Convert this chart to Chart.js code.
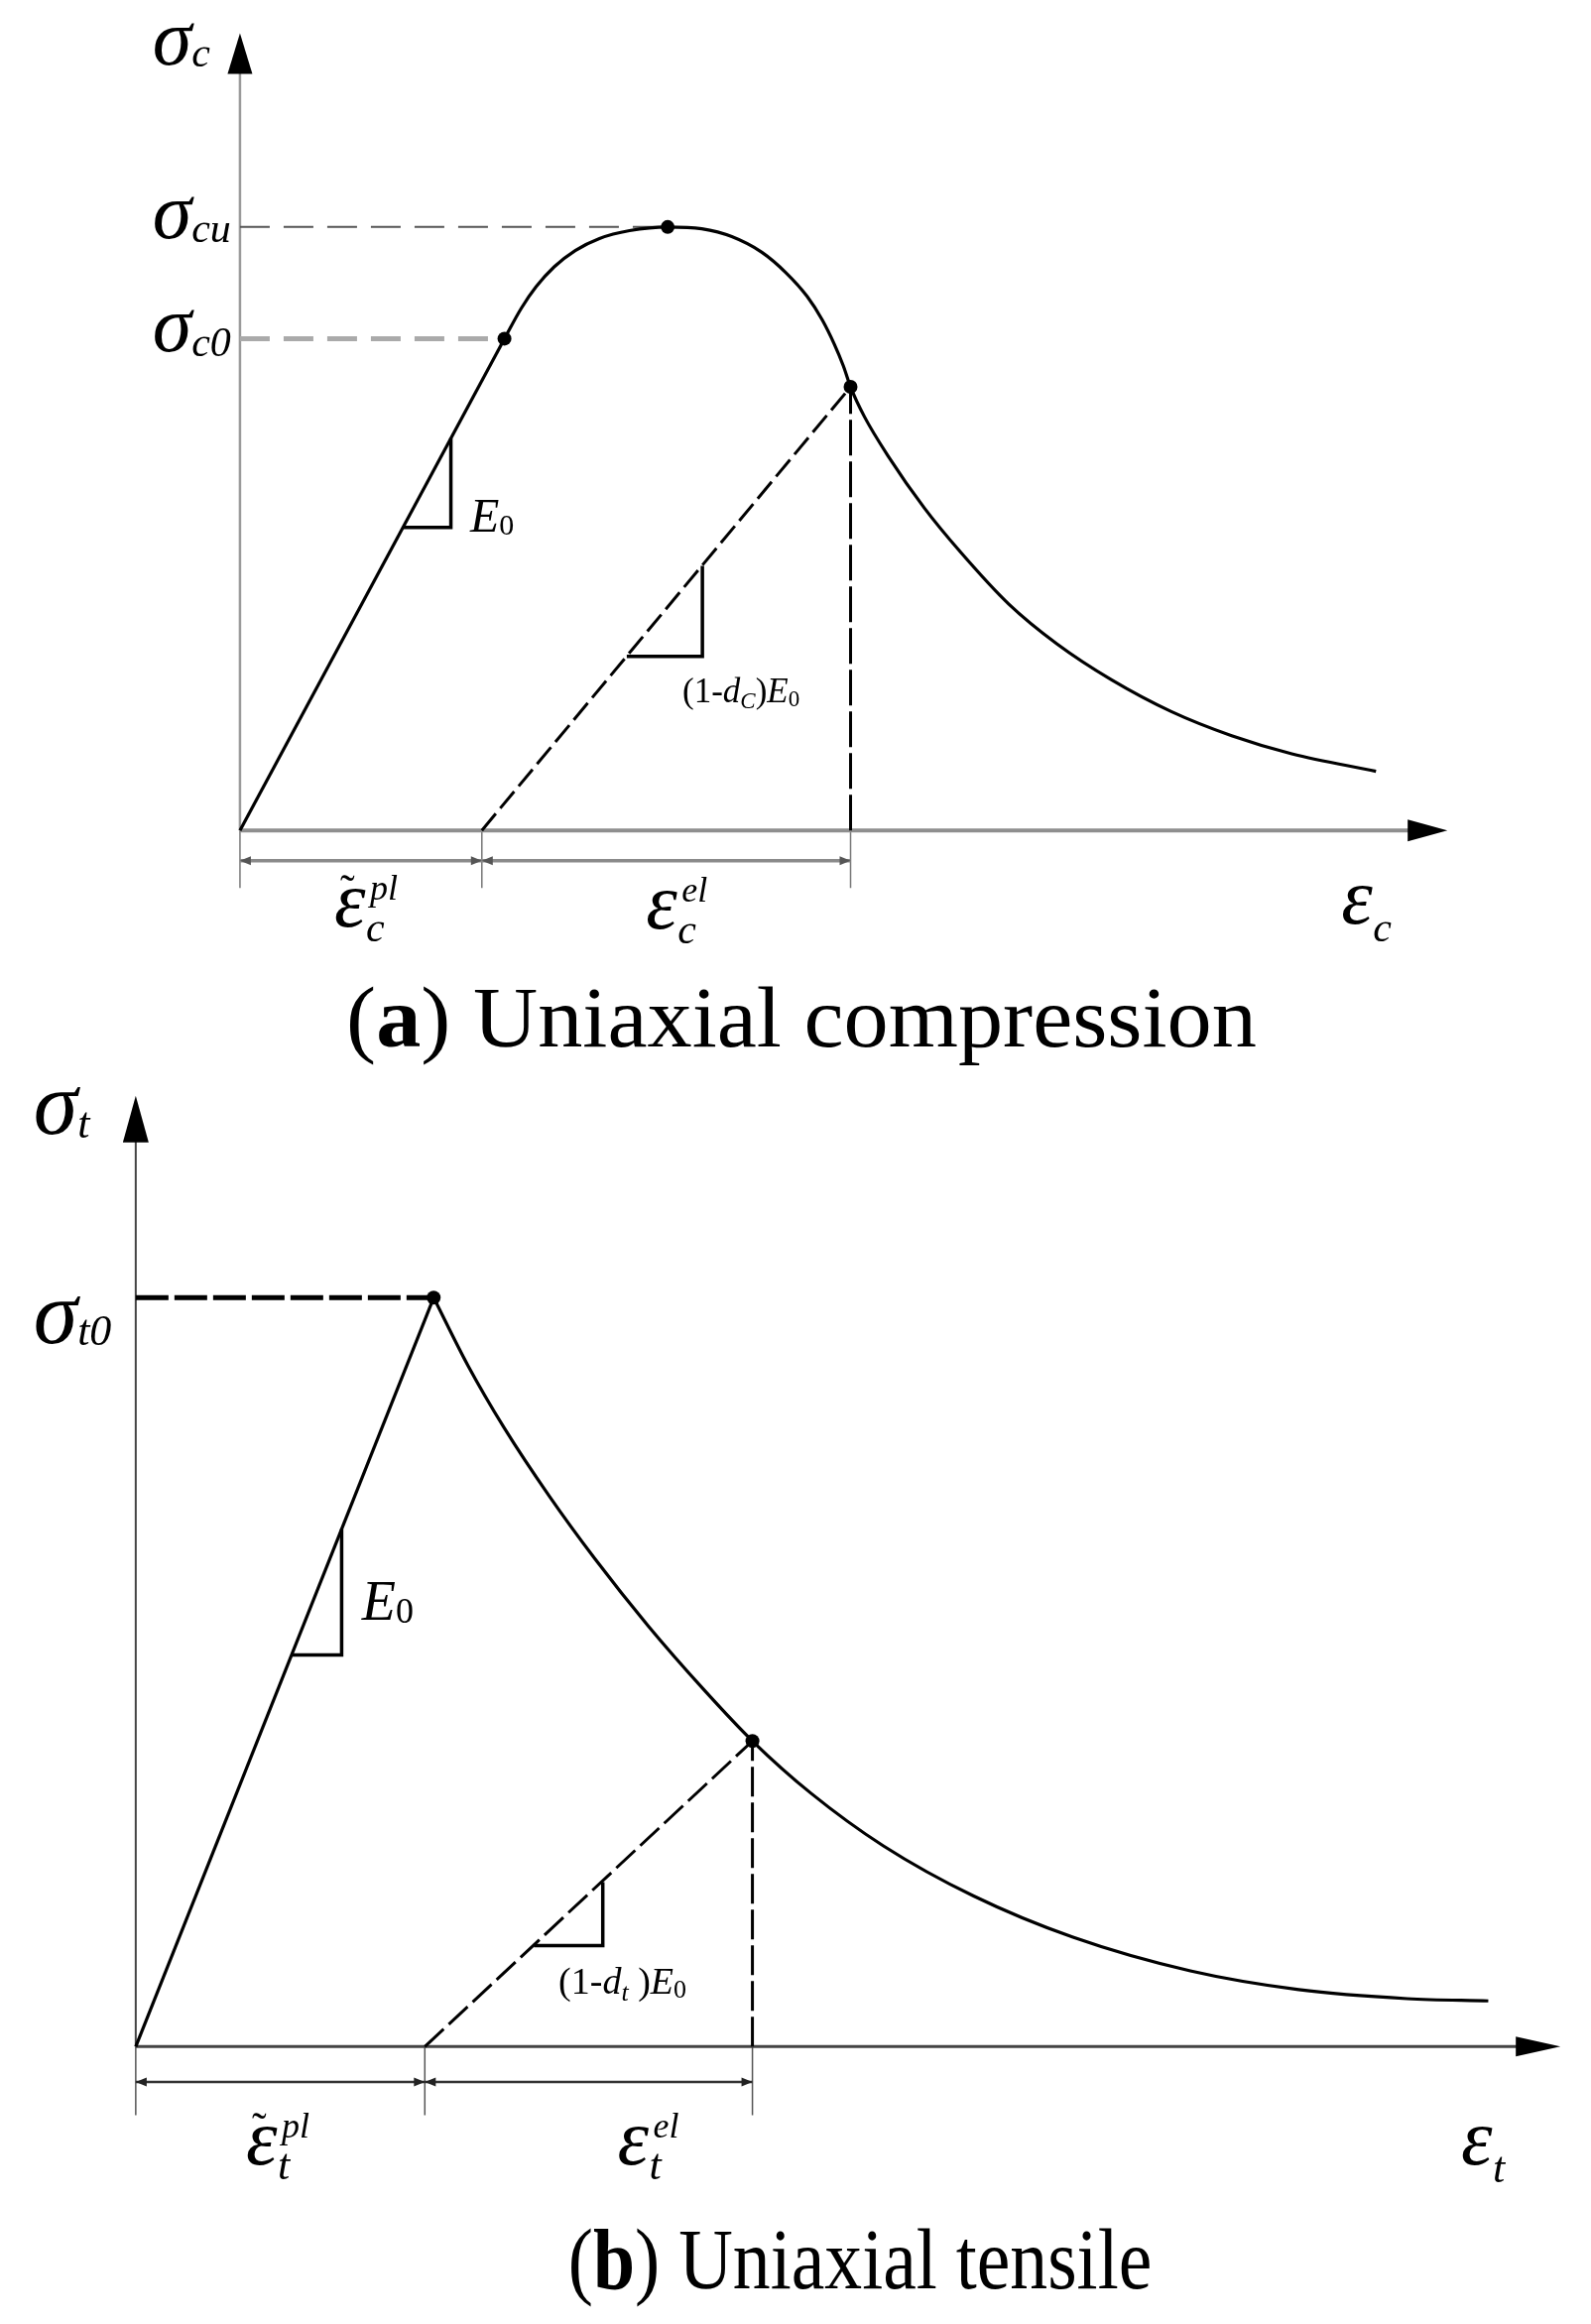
<!DOCTYPE html>
<html>
<head>
<meta charset="utf-8">
<script src="https://cdn.jsdelivr.net/npm/chart.js@4.4.0/dist/chart.umd.min.js"></script>
<style>
  html, body { margin: 0; padding: 0; background: #fff; }
  body { width: 1604px; height: 2343px; position: relative; overflow: hidden; }
  canvas { position: absolute; left: 0; }
  #cvA { top: 0; }
  #cvB { top: 1075px; }
  .cap { position: absolute; font-family: "Liberation Serif", serif; font-size: 86px; line-height: 1;
         color: #000; white-space: nowrap; }
</style>
</head>
<body>
<canvas id="cvA" width="1604" height="1000"></canvas>
<canvas id="cvB" width="1604" height="1190"></canvas>
<div class="cap" style="left:808px; top:983px; transform:translateX(-50%) scaleX(1.05);">(<b>a</b>) Uniaxial compression</div>
<div class="cap" style="left:867px; top:2235px; transform:translateX(-50%) scaleX(0.88);">(<b>b</b>) Uniaxial tensile</div>

<script>
// ---- (a) uniaxial compression: strain (arbitrary units), stress / sigma_cu
var compElasticStrain = [0, 1.345];
var compElasticStress = [0, 0.815];
var compCurveStrain = [1.345, 1.430, 1.506, 1.598, 1.705, 1.828, 1.981, 2.175, 2.348, 2.501, 2.654, 2.777, 2.884, 2.961,
                       3.022, 3.068, 3.105, 3.175, 3.297, 3.481, 3.665, 3.910, 4.155, 4.430, 4.736, 5.043, 5.349, 5.777];
var compCurveStress = [0.815, 0.865, 0.901, 0.934, 0.961, 0.981, 0.994, 1.000, 0.997, 0.984, 0.958, 0.924, 0.885, 0.846,
                       0.806, 0.770, 0.735, 0.686, 0.620, 0.534, 0.461, 0.375, 0.309, 0.250, 0.197, 0.157, 0.127, 0.098];
var compKeyStrain = [1.345, 2.175, 3.105];     // sigma_c0, sigma_cu, unloading point
var compKeyStress = [0.815, 1.000, 0.735];
var compUnloadStrain = [1.23, 3.105];
var compUnloadStress = [0, 0.735];
var compTriE0Strain = [0.829, 1.0725, 1.0725];
var compTriE0Stress = [0.502, 0.502, 0.650];
var compTriDStrain = [1.967, 2.3515, 2.3515];
var compTriDStress = [0.2885, 0.2885, 0.4384];
var compAxisEnd = [6.14, 1.321];   // x arrow tip, y arrow tip

// ---- (b) uniaxial tensile: strain, stress / sigma_t0
var tensElasticStrain = [0, 1.515];
var tensElasticStress = [0, 1.0];
var tensCurveStrain = [1.515, 1.690, 1.874, 2.103, 2.333, 2.608, 2.884, 3.136, 3.435, 3.802, 4.261, 4.766, 5.363, 5.914, 6.465, 6.878];
var tensCurveStress = [1.000, 0.909, 0.826, 0.735, 0.652, 0.561, 0.478, 0.408, 0.338, 0.268, 0.201, 0.146, 0.101, 0.076, 0.064, 0.061];
var tensKeyStrain = [1.515, 3.136];
var tensKeyStress = [1.0, 0.408];
var tensUnloadStrain = [1.47, 3.136];
var tensUnloadStress = [0, 0.408];
var tensTriE0Strain = [0.792, 1.047, 1.047];
var tensTriE0Stress = [0.5229, 0.5229, 0.691];
var tensTriDStrain = [2.025, 2.375, 2.375];
var tensTriDStress = [0.1348, 0.1348, 0.2197];
var tensAxisEnd = [7.245, 1.2696];

function pts(xs, ys) {
  return xs.map(function(x, i) { return {x: x, y: ys[i]}; });
}

function lineSet(data, color, width, dash, extra) {
  return Object.assign({
    data: data, borderColor: color, backgroundColor: color, borderWidth: width,
    borderDash: dash || [], pointRadius: 0, tension: 0, fill: false
  }, extra || {});
}

function serifI(s) { return 'italic ' + s + 'px "Liberation Serif"'; }
function serif(s) { return s + 'px "Liberation Serif"'; }

// arrowheads and rich labels, placed through the chart scales
function decoPlugin(labels, arrows) {
  return {
    id: 'deco',
    afterDatasetsDraw: function(chart) {
      var ctx = chart.ctx, sx = chart.scales.x, sy = chart.scales.y;
      ctx.save();
      arrows.forEach(function(a) {
        var px = sx.getPixelForValue(a.x), py = sy.getPixelForValue(a.y);
        ctx.fillStyle = a.color || '#000';
        ctx.beginPath();
        if (a.dir == 'up') {
          ctx.moveTo(px, py); ctx.lineTo(px - a.half, py + a.len); ctx.lineTo(px + a.half, py + a.len);
        } else if (a.dir == 'right') {
          ctx.moveTo(px, py); ctx.lineTo(px - a.len, py - a.half); ctx.lineTo(px - a.len, py + a.half);
        } else {
          ctx.moveTo(px, py); ctx.lineTo(px + a.len, py - a.half); ctx.lineTo(px + a.len, py + a.half);
        }
        ctx.closePath();
        ctx.fill();
      });
      ctx.textBaseline = 'alphabetic';
      ctx.textAlign = 'left';
      labels.forEach(function(l) {
        var px = sx.getPixelForValue(l.x), py = sy.getPixelForValue(l.y);
        var cur = 0;
        l.runs.forEach(function(r) {
          ctx.font = r.f;
          ctx.fillStyle = '#000';
          var x0 = (typeof r.at == 'number') ? r.at : cur;
          ctx.fillText(r.t, px + x0, py + (r.dy || 0));
          if (typeof r.at != 'number') cur = x0 + ctx.measureText(r.t).width;
        });
      });
      ctx.restore();
    }
  };
}

function dimArrows(ticks, y, color) {
  var out = [];
  for (var i = 0; i < ticks.length - 1; i++) {
    out.push({x: ticks[i], y: y, dir: 'left', len: 11, half: 4.5, color: color});
    out.push({x: ticks[i + 1], y: y, dir: 'right', len: 11, half: 4.5, color: color});
  }
  return out;
}

function makeChart(id, datasets, xr, yr, labels, arrows) {
  return new Chart(document.getElementById(id).getContext('2d'), {
    type: 'line',
    data: { datasets: datasets },
    options: {
      responsive: false,
      animation: false,
      layout: { padding: 0 },
      scales: {
        x: { type: 'linear', display: false, min: xr[0], max: xr[1] },
        y: { type: 'linear', display: false, min: yr[0], max: yr[1] }
      },
      plugins: {
        legend: { display: false },
        tooltip: { enabled: false }
      }
    },
    plugins: [decoPlugin(labels, arrows)]
  });
}

// ---------- chart (a)
var compTicks = [0, compUnloadStrain[0], compKeyStrain[2]];
var compDimY = -0.0502, compTickBottom = -0.0956;
var sigA = serifI(80), subA = serifI(42);

var compSets = [
  { data: pts(compKeyStrain, compKeyStress), showLine: false, pointRadius: 7, pointBackgroundColor: '#000',
    pointBorderWidth: 0, borderColor: '#000' },
  lineSet(pts(compCurveStrain, compCurveStress), '#000', 3.2, [], {cubicInterpolationMode: 'monotone'}),
  lineSet(pts(compElasticStrain, compElasticStress), '#000', 3.2),
  lineSet(pts(compUnloadStrain, compUnloadStress), '#000', 3, [22, 7]),
  lineSet(pts([compKeyStrain[2], compKeyStrain[2]], [0, compKeyStress[2]]), '#000', 3, [36, 6]),
  lineSet(pts([0, compKeyStrain[1]], [compKeyStress[1], compKeyStress[1]]), '#555', 2, [30, 14]),
  lineSet(pts([0, compKeyStrain[0]], [compKeyStress[0], compKeyStress[0]]), '#aaa', 5, [30, 14]),
  lineSet(pts(compTriE0Strain, compTriE0Stress), '#000', 3.5),
  lineSet(pts(compTriDStrain, compTriDStress), '#000', 3.5),
  lineSet(pts([0, compAxisEnd[0] - 0.1], [0, 0]), '#8f8f8f', 4),
  lineSet(pts([0, 0], [0, compAxisEnd[1] - 0.05]), '#9a9a9a', 2.5),
  lineSet(pts([compTicks[0], compTicks[2]], [compDimY, compDimY]), '#8a8a8a', 3.5)
].concat(compTicks.map(function(t) {
  return lineSet(pts([t, t], [0, compTickBottom]), '#777', 1.5);
}));

var compLabels = [
  {x: -0.445, y: 1.269, runs: [{t: 'σ', f: sigA}, {t: 'c', f: subA, dy: 2}]},
  {x: -0.445, y: 0.982, runs: [{t: 'σ', f: sigA}, {t: 'cu', f: subA, dy: 4}]},
  {x: -0.445, y: 0.794, runs: [{t: 'σ', f: sigA}, {t: 'c0', f: subA, dy: 5}]},
  {x: 1.17, y: 0.495, runs: [{t: 'E', f: serifI(48)}, {t: '0', f: serif(30), dy: 3}]},
  {x: 2.25, y: 0.212, runs: [{t: '(1-', f: serif(35)}, {t: 'd', f: serifI(35)}, {t: 'C', f: serifI(23), dy: 6},
                            {t: ')', f: serif(35)}, {t: 'E', f: serifI(35)}, {t: '0', f: serif(23), dy: 4}]},
  {x: 0.48, y: -0.1588, runs: [{t: 'ε', f: serifI(80)}, {t: 'c', f: subA, at: 32, dy: 15},
                              {t: 'pl', f: serifI(36), at: 36, dy: -27}, {t: '˜', f: serif(44), at: 6, dy: -22}]},
  {x: 2.065, y: -0.162, runs: [{t: 'ε', f: serifI(80)}, {t: 'c', f: subA, at: 32, dy: 15},
                              {t: 'el', f: serifI(36), at: 36, dy: -27}]},
  {x: 5.6, y: -0.154, runs: [{t: 'ε', f: serifI(80)}, {t: 'c', f: subA, at: 32, dy: 18}]}
];

var compArrows = [
  {x: 0, y: compAxisEnd[1], dir: 'up', len: 41, half: 12.5},
  {x: compAxisEnd[0], y: 0, dir: 'right', len: 40, half: 11}
].concat(dimArrows(compTicks, compDimY, '#555'));

makeChart('cvA', compSets, [-1.185, 6.835], [-0.25608, 1.36467], compLabels, compArrows);

// ---------- chart (b)
var tensTicks = [0, tensUnloadStrain[0], tensKeyStrain[1]];
var tensDimY = -0.0471, tensTickBottom = -0.0916;
var sigB = serifI(90), subB = serifI(44);

var tensSets = [
  { data: pts(tensKeyStrain, tensKeyStress), showLine: false, pointRadius: 7, pointBackgroundColor: '#000',
    pointBorderWidth: 0, borderColor: '#000' },
  lineSet(pts(tensCurveStrain, tensCurveStress), '#000', 3.2, [], {cubicInterpolationMode: 'monotone'}),
  lineSet(pts(tensElasticStrain, tensElasticStress), '#000', 3.2),
  lineSet(pts(tensUnloadStrain, tensUnloadStress), '#000', 3, [26, 7]),
  lineSet(pts([tensKeyStrain[1], tensKeyStrain[1]], [0, tensKeyStress[1]]), '#000', 3, [30, 6]),
  lineSet(pts([0, tensKeyStrain[0]], [tensKeyStress[0], tensKeyStress[0]]), '#000', 5, [33, 6]),
  lineSet(pts(tensTriE0Strain, tensTriE0Stress), '#000', 3.5),
  lineSet(pts(tensTriDStrain, tensTriDStress), '#000', 3.5),
  lineSet(pts([0, tensAxisEnd[0] - 0.1], [0, 0]), '#444', 3),
  lineSet(pts([0, 0], [0, tensAxisEnd[1] - 0.05]), '#444', 2),
  lineSet(pts([tensTicks[0], tensTicks[2]], [tensDimY, tensDimY]), '#333', 2.5)
].concat(tensTicks.map(function(t) {
  return lineSet(pts([t, t], [0, tensTickBottom]), '#555', 1.5);
}));

var tensLabels = [
  {x: -0.52, y: 1.2186, runs: [{t: 'σ', f: sigB}, {t: 't', f: subB, dy: 4}]},
  {x: -0.52, y: 0.94, runs: [{t: 'σ', f: sigB}, {t: 't0', f: subB, dy: 2}]},
  {x: 1.15, y: 0.57, runs: [{t: 'E', f: serifI(56)}, {t: '0', f: serif(36), dy: 3}]},
  {x: 2.15, y: 0.07, runs: [{t: '(1-', f: serif(38)}, {t: 'd', f: serifI(38)}, {t: 't', f: serifI(26), dy: 7},
                           {t: ' )', f: serif(38)}, {t: 'E', f: serifI(38)}, {t: '0', f: serif(26), dy: 4}]},
  {x: 0.56, y: -0.157, runs: [{t: 'ε', f: serifI(80)}, {t: 't', f: subB, at: 32, dy: 15},
                             {t: 'pl', f: serifI(36), at: 36, dy: -27}, {t: '˜', f: serif(44), at: 6, dy: -22}]},
  {x: 2.45, y: -0.157, runs: [{t: 'ε', f: serifI(80)}, {t: 't', f: subB, at: 32, dy: 15},
                             {t: 'el', f: serifI(36), at: 36, dy: -27}]},
  {x: 6.74, y: -0.157, runs: [{t: 'ε', f: serifI(80)}, {t: 't', f: subB, at: 32, dy: 18}]}
];

var tensArrows = [
  {x: 0, y: tensAxisEnd[1], dir: 'up', len: 47, half: 13},
  {x: tensAxisEnd[0], y: 0, dir: 'right', len: 45, half: 10}
].concat(dimArrows(tensTicks, tensDimY, '#222'));

makeChart('cvB', tensSets, [-0.655, 7.365], [-0.25785, 1.29974], tensLabels, tensArrows);
</script>
</body>
</html>
